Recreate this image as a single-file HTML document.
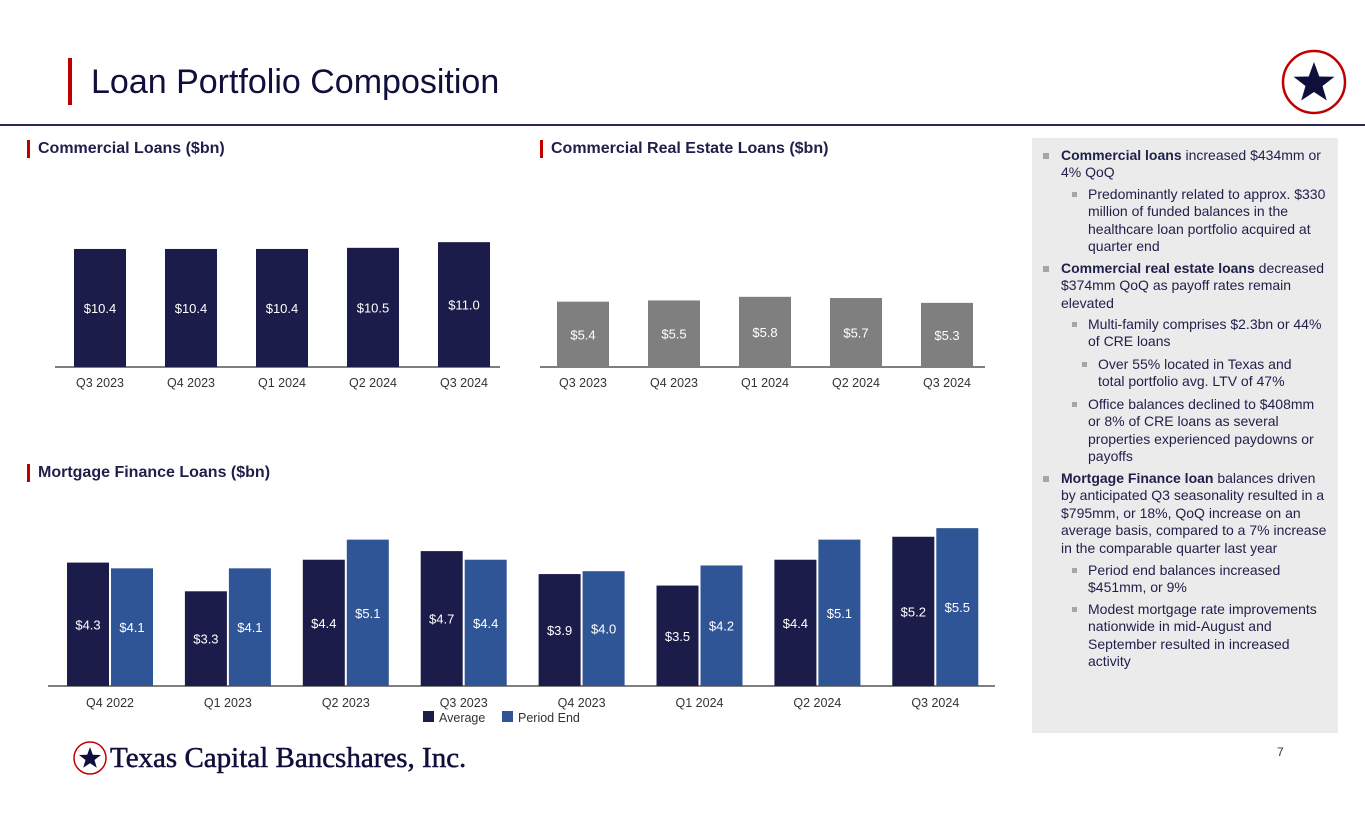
<!DOCTYPE html>
<html><head><meta charset="utf-8">
<style>
body{margin:0;width:1365px;height:829px;background:#fff;position:relative;overflow:hidden;font-family:"Liberation Sans",Arial,sans-serif;color:#1c1c4a}
.abs{position:absolute}
.sec{position:absolute;font-weight:bold;font-size:16px;color:#1f1f4b;border-left:3px solid #c00000;padding-left:8px;height:18px;line-height:18px}
.panel{position:absolute;left:1032px;top:138px;width:306px;height:595px;background:#ebebeb}
.b{position:absolute;font-size:14px;line-height:17.4px;color:#1f1f4b;white-space:nowrap}
.b::before{content:"";position:absolute;background:#a6a6a6}
.l1::before{width:6px;height:6px;left:-18px;top:6px}
.l2::before{width:5px;height:5px;left:-16px;top:6px}
.l3::before{width:5px;height:5px;left:-16px;top:6px}
</style></head><body>
<div class="abs" style="left:68px;top:58px;width:4px;height:47px;background:#c00000"></div>
<div class="abs" style="left:91px;top:61px;font-size:34px;color:#0f0f3c;line-height:42px">Loan Portfolio Composition</div>
<div class="abs" style="left:0;top:124px;width:1365px;height:2px;background:#2a2a50"></div>
<svg class="abs" style="left:1280px;top:48px" width="68" height="68" viewBox="0 0 68 68">
<circle cx="34" cy="34" r="31" fill="#fff" stroke="#c00000" stroke-width="2.5"/>
<polygon points="34,14 39.3,28.5 54.5,28.8 42.5,38 46.8,52.5 34,44 21.2,52.5 25.5,38 13.5,28.8 28.7,28.5" fill="#0f0f3c"/>
</svg>

<div class="sec" style="left:27px;top:140px">Commercial Loans ($bn)</div>
<div class="sec" style="left:540px;top:140px">Commercial Real Estate Loans ($bn)</div>
<div class="sec" style="left:27px;top:464px">Mortgage Finance Loans ($bn)</div>

<svg id="charts" class="abs" style="left:0;top:0" width="1030" height="740"></svg>

<div class="panel"></div>
<div class="b l1" style="left:1061px;top:147px"><b>Commercial loans</b> increased $434mm or<br>4% QoQ</div>
<div class="b l2" style="left:1088px;top:186px">Predominantly related to approx. $330<br>million of funded balances in the<br>healthcare loan portfolio acquired at<br>quarter end</div>
<div class="b l1" style="left:1061px;top:260px"><b>Commercial real estate loans</b> decreased<br>$374mm QoQ as payoff rates remain<br>elevated</div>
<div class="b l2" style="left:1088px;top:316px">Multi-family comprises $2.3bn or 44%<br>of CRE loans</div>
<div class="b l3" style="left:1098px;top:356px">Over 55% located in Texas and<br>total portfolio avg. LTV of 47%</div>
<div class="b l2" style="left:1088px;top:396px">Office balances declined to $408mm<br>or 8% of CRE loans as several<br>properties experienced paydowns or<br>payoffs</div>
<div class="b l1" style="left:1061px;top:470px"><b>Mortgage Finance loan</b> balances driven<br>by anticipated Q3 seasonality resulted in a<br>$795mm, or 18%, QoQ increase on an<br>average basis, compared to a 7% increase<br>in the comparable quarter last year</div>
<div class="b l2" style="left:1088px;top:562px">Period end balances increased<br>$451mm, or 9%</div>
<div class="b l2" style="left:1088px;top:601px">Modest mortgage rate improvements<br>nationwide in mid-August and<br>September resulted in increased<br>activity</div>

<svg class="abs" style="left:72px;top:740px" width="36" height="36" viewBox="0 0 36 36">
<circle cx="18" cy="18" r="16" fill="#fff" stroke="#c00000" stroke-width="1.5"/>
<polygon points="18,7 20.8,14.8 29,15 22.5,20 24.8,27.8 18,23.2 11.2,27.8 13.5,20 7,15 15.2,14.8" fill="#0f0f3c"/>
</svg>
<div class="abs" style="left:110px;top:742px;font-family:'Liberation Serif',serif;font-size:29px;color:#0f0f3c;-webkit-text-stroke:0.5px #0f0f3c;line-height:32px">Texas Capital Bancshares, Inc.</div>
<div class="abs" style="left:1277px;top:745px;font-size:12px;color:#333">7</div>

<script>
const comCats=["Q3 2023","Q4 2023","Q1 2024","Q2 2024","Q3 2024"];
const comVals=[10.4,10.4,10.4,10.5,11.0];
const creCats=["Q3 2023","Q4 2023","Q1 2024","Q2 2024","Q3 2024"];
const creVals=[5.4,5.5,5.8,5.7,5.3];
const mfCats=["Q4 2022","Q1 2023","Q2 2023","Q3 2023","Q4 2023","Q1 2024","Q2 2024","Q3 2024"];
const mfAvg=[4.3,3.3,4.4,4.7,3.9,3.5,4.4,5.2];
const mfEnd=[4.1,4.1,5.1,4.4,4.0,4.2,5.1,5.5];

const svg=document.getElementById('charts');
const NS="http://www.w3.org/2000/svg";
function mk(tag,attrs,txt){const e=document.createElementNS(NS,tag);for(const k in attrs)e.setAttribute(k,attrs[k]);if(txt!=null)e.textContent=txt;svg.appendChild(e);return e;}
function fmt(v){return "$"+v.toFixed(1);}

function simpleChart(cats,vals,x0,step,bw,base,ppu,color,axL,axR,prefix){
  const ln=mk('line',{x1:axL,x2:axR,y1:base,y2:base,stroke:'#7f7f7f','stroke-width':2});
  
  
  cats.forEach((c,i)=>{
    const cx=x0+i*step, h=vals[i]*ppu;
    const r=mk('rect',{x:cx-bw/2,y:base-h,width:bw,height:h,fill:color});
    
    
    const t=mk('text',{x:cx,y:base-h/2+5,'text-anchor':'middle','font-size':13,fill:'#fff'},fmt(vals[i]));
    
    
    const l=mk('text',{x:cx,y:base+20,'text-anchor':'middle','font-size':12.5,fill:'#333'},c);
    
    
  });
}
simpleChart(comCats,comVals,100,91,52,367,11.35,'#1c1c4a',55,500,'commercial');
simpleChart(creCats,creVals,583,91,52,367,12.1,'#7f7f7f',540,985,'cre');

const mBase=686, mPpu=28.7, mX0=110, mStep=117.9, mBw=42;
const ax=mk('line',{x1:48,x2:995,y1:mBase,y2:mBase,stroke:'#7f7f7f','stroke-width':2});


mfCats.forEach((c,i)=>{
  const cx=mX0+i*mStep;
  [[mfAvg[i],cx-mBw-1,'#1c1c4a','avg'],[mfEnd[i],cx+1,'#2f5597','end']].forEach(([v,x,col,nm])=>{
    const h=v*mPpu;
    const r=mk('rect',{x:x,y:mBase-h,width:mBw,height:h,fill:col});
    
    
    const t=mk('text',{x:x+mBw/2,y:mBase-h/2+5,'text-anchor':'middle','font-size':13,fill:'#fff'},fmt(v));
    
    
  });
  const l=mk('text',{x:cx,y:mBase+21,'text-anchor':'middle','font-size':12.5,fill:'#333'},c);
  
  
});
const lg1=mk('rect',{x:423,y:711,width:11,height:11,fill:'#1c1c4a'});


const lt1=mk('text',{x:439,y:722,'font-size':12.5,fill:'#333'},'Average');


const lg2=mk('rect',{x:502,y:711,width:11,height:11,fill:'#2f5597'});


const lt2=mk('text',{x:518,y:722,'font-size':12.5,fill:'#333'},'Period End');


svg.querySelectorAll('text').forEach(t=>t.setAttribute('font-family','Liberation Sans, Arial, sans-serif'));
</script>
</body></html>
